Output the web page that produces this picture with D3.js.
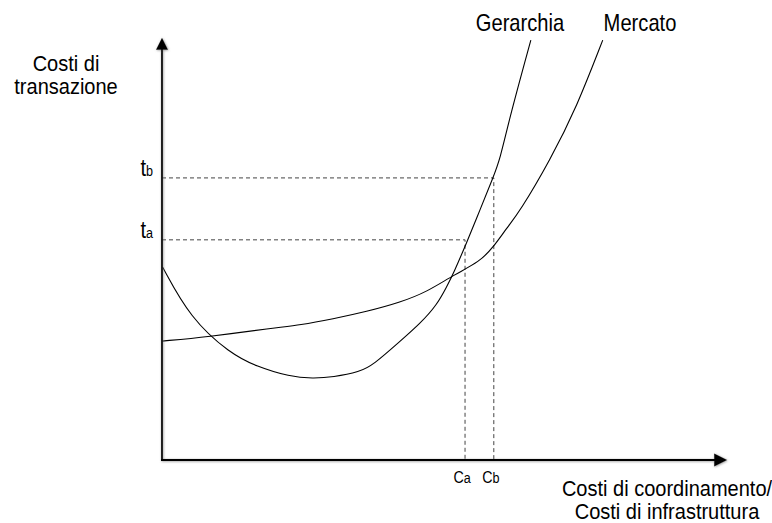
<!DOCTYPE html>
<html>
<head>
<meta charset="utf-8">
<script src="https://cdn.jsdelivr.net/npm/d3@7/dist/d3.min.js"></script>
<style>
  body { margin: 0; background: #fff; }
  svg text { font-family: "Liberation Sans", Arial, sans-serif; fill: #000; }
</style>
</head>
<body>
<div id="chart"></div>
<script type="text/javascript">
// curves (x: coordination costs, y: transaction costs, 0-100)
var gerarchia = [[0.1,47.1],[5.1,34.6],[12.3,26.0],[17.1,22.8],[23.1,20.3],[27.3,19.9],[30.9,20.2],
                 [35.8,21.5],[38.2,23.2],[43.0,28.9],[46.7,33.3],[49.7,37.8],[51.5,42.3],[52.7,45.5],
                 [55.0,52.7],[57.5,61.0],[59.9,69.0],[61.1,73.2],[62.9,83.7],[66.7,102.4]];
var mercato = [[0,29.0],[8.1,30.0],[20.1,32.2],[25.0,32.9],[30.9,34.4],[37.0,36.2],[43.0,38.4],
               [47.9,41.0],[52.7,45.1],[57.5,48.4],[59.9,51.9],[62.3,56.5],[64.7,60.6],[70.2,73.2],
               [75.0,86.1],[79.7,102.4]];
var seriesNames = ["Gerarchia", "Mercato"];
// reference levels
var tLevels = [{sub: "a", v: 53.7}, {sub: "b", v: 68.8}];
var cLevels = [{sub: "a", v: 54.8}, {sub: "b", v: 60.0}];
var yTitle = ["Costi di", "transazione"];
var xTitle = ["Costi di coordinamento/", "Costi di infrastruttura"];

var w = 772, h = 523;
var narrow = 0.84; // the picture uses a condensed face
var svg = d3.select("#chart").append("svg").attr("width", w).attr("height", h);

var x = d3.scaleLinear().domain([0, 100]).range([162, 715]);
var y = d3.scaleLinear().domain([0, 100]).range([460, 50]);

var defs = svg.append("defs");
var f = defs.append("filter").attr("id", "shadow")
  .attr("x", "-20%").attr("y", "-20%").attr("width", "140%").attr("height", "140%");
f.append("feDropShadow").attr("dx", 0.6).attr("dy", 0.6).attr("stdDeviation", 1.3)
  .attr("flood-color", "#777").attr("flood-opacity", 0.8);

function label(px, py, anchor, parts, sx) {
  var t = svg.append("text")
    .attr("transform", "translate(" + px + "," + py + ") scale(" + (sx || narrow) + ",1)")
    .attr("text-anchor", anchor);
  parts.forEach(function(p) {
    t.append("tspan").style("font-size", p[1] + "px").text(p[0]);
  });
  return t;
}

// dashed guides
tLevels.forEach(function(t, i) {
  var c = cLevels[i];
  svg.append("path")
    .attr("d", "M" + x(0) + "," + y(t.v) + "H" + x(c.v) + "V" + y(0))
    .attr("fill", "none").attr("stroke", "#444").attr("stroke-width", 1)
    .attr("stroke-dasharray", "4,3");
});

// curves
var line = d3.line().x(function(d) { return x(d[0]); }).y(function(d) { return y(d[1]); })
  .curve(d3.curveBasis);
[gerarchia, mercato].forEach(function(s) {
  svg.append("path").attr("d", line(s)).attr("fill", "none")
    .attr("stroke", "#000").attr("stroke-width", 1.1);
});

// axes with arrows
var ax = svg.append("g").attr("filter", "url(#shadow)");
var x0 = x(0), y0 = y(0), yTop = y(103), xEnd = x(102.2);
ax.append("line").attr("x1", x0).attr("y1", y0).attr("x2", x0).attr("y2", yTop + 6)
  .attr("stroke", "#000").attr("stroke-width", 1.8);
ax.append("line").attr("x1", x0 - 1).attr("y1", y0).attr("x2", xEnd - 6).attr("y2", y0)
  .attr("stroke", "#000").attr("stroke-width", 1.8);
ax.append("path").attr("d", "M" + x0 + "," + yTop + "L" + (x0 + 6) + "," + (yTop + 12) + "L" + (x0 - 6) + "," + (yTop + 12) + "Z");
ax.append("path").attr("d", "M" + xEnd + "," + y0 + "L" + (xEnd - 13) + "," + (y0 - 6.5) + "L" + (xEnd - 13) + "," + (y0 + 6.5) + "Z");

// series labels
var labX = [520, 640];
seriesNames.forEach(function(n, i) {
  label(labX[i], 31, "middle", [[n, 24]]);
});

// t labels
tLevels.forEach(function(t) {
  label(x0 - 9, y(t.v) - 2, "end", [["t", 24], [t.sub, 15]]);
});
// c labels
cLevels.forEach(function(c) {
  label(x(c.v) - 3, y0 + 23, "middle", [["C", 17], [c.sub, 15]]);
});

// axis titles (two stacked lines each)
yTitle.forEach(function(s, i) {
  label(66, 71 + i * 23, "middle", [[s, 22]], 0.91);
});
xTitle.forEach(function(s, i) {
  label(667, 496 + i * 23, "middle", [[s, 22]], 0.91);
});
</script>
</body>
</html>
